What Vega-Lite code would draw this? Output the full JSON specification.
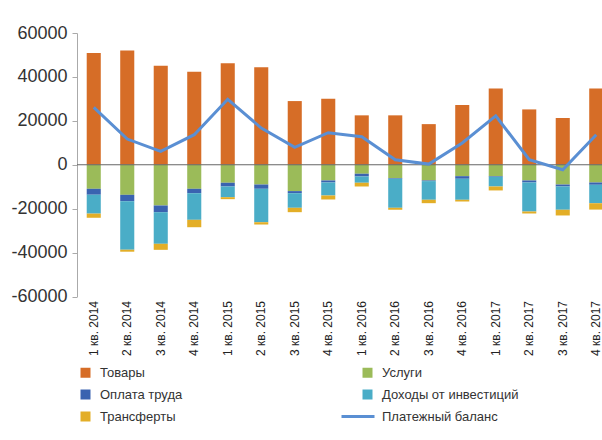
{
  "$schema": "https://vega.github.io/schema/vega-lite/v6.json",
  "autosize": "none",
  "padding": {"left": 77, "top": 33, "right": 0, "bottom": 143.5},
  "width": 525,
  "height": 263.5,
  "background": "white",
  "config": {
    "view": {"stroke": null},
    "font": "Liberation Sans",
    "axis": {"labelFont": "Liberation Sans", "labelColor": "#333"},
    "legend": {"labelFont": "Liberation Sans"}
  },
  "datasets": {
    "bars": [
      {"q": "1 кв. 2014", "type": "Товары", "value": 50900},
      {"q": "1 кв. 2014", "type": "Услуги", "value": -10950},
      {"q": "1 кв. 2014", "type": "Оплата труда", "value": -2700},
      {"q": "1 кв. 2014", "type": "Доходы от инвестиций", "value": -8600},
      {"q": "1 кв. 2014", "type": "Трансферты", "value": -1900},
      {"q": "2 кв. 2014", "type": "Товары", "value": 52000},
      {"q": "2 кв. 2014", "type": "Услуги", "value": -13700},
      {"q": "2 кв. 2014", "type": "Оплата труда", "value": -2900},
      {"q": "2 кв. 2014", "type": "Доходы от инвестиций", "value": -22100},
      {"q": "2 кв. 2014", "type": "Трансферты", "value": -900},
      {"q": "3 кв. 2014", "type": "Товары", "value": 45100},
      {"q": "3 кв. 2014", "type": "Услуги", "value": -18550},
      {"q": "3 кв. 2014", "type": "Оплата труда", "value": -3050},
      {"q": "3 кв. 2014", "type": "Доходы от инвестиций", "value": -14400},
      {"q": "3 кв. 2014", "type": "Трансферты", "value": -2750},
      {"q": "4 кв. 2014", "type": "Товары", "value": 42400},
      {"q": "4 кв. 2014", "type": "Услуги", "value": -10950},
      {"q": "4 кв. 2014", "type": "Оплата труда", "value": -2000},
      {"q": "4 кв. 2014", "type": "Доходы от инвестиций", "value": -12130},
      {"q": "4 кв. 2014", "type": "Трансферты", "value": -3370},
      {"q": "1 кв. 2015", "type": "Товары", "value": 46200},
      {"q": "1 кв. 2015", "type": "Услуги", "value": -8200},
      {"q": "1 кв. 2015", "type": "Оплата труда", "value": -1700},
      {"q": "1 кв. 2015", "type": "Доходы от инвестиций", "value": -4870},
      {"q": "1 кв. 2015", "type": "Трансферты", "value": -900},
      {"q": "2 кв. 2015", "type": "Товары", "value": 44400},
      {"q": "2 кв. 2015", "type": "Услуги", "value": -9000},
      {"q": "2 кв. 2015", "type": "Оплата труда", "value": -1950},
      {"q": "2 кв. 2015", "type": "Доходы от инвестиций", "value": -15220},
      {"q": "2 кв. 2015", "type": "Трансферты", "value": -1050},
      {"q": "3 кв. 2015", "type": "Товары", "value": 29000},
      {"q": "3 кв. 2015", "type": "Услуги", "value": -12000},
      {"q": "3 кв. 2015", "type": "Оплата труда", "value": -950},
      {"q": "3 кв. 2015", "type": "Доходы от инвестиций", "value": -6650},
      {"q": "3 кв. 2015", "type": "Трансферты", "value": -2000},
      {"q": "4 кв. 2015", "type": "Товары", "value": 30100},
      {"q": "4 кв. 2015", "type": "Услуги", "value": -7150},
      {"q": "4 кв. 2015", "type": "Оплата труда", "value": -920},
      {"q": "4 кв. 2015", "type": "Доходы от инвестиций", "value": -5930},
      {"q": "4 кв. 2015", "type": "Трансферты", "value": -1820},
      {"q": "1 кв. 2016", "type": "Товары", "value": 22500},
      {"q": "1 кв. 2016", "type": "Услуги", "value": -4100},
      {"q": "1 кв. 2016", "type": "Оплата труда", "value": -1240},
      {"q": "1 кв. 2016", "type": "Доходы от инвестиций", "value": -2860},
      {"q": "1 кв. 2016", "type": "Трансферты", "value": -1700},
      {"q": "2 кв. 2016", "type": "Товары", "value": 22500},
      {"q": "2 кв. 2016", "type": "Услуги", "value": -6100},
      {"q": "2 кв. 2016", "type": "Оплата труда", "value": -300},
      {"q": "2 кв. 2016", "type": "Доходы от инвестиций", "value": -13200},
      {"q": "2 кв. 2016", "type": "Трансферты", "value": -900},
      {"q": "3 кв. 2016", "type": "Товары", "value": 18500},
      {"q": "3 кв. 2016", "type": "Услуги", "value": -7150},
      {"q": "3 кв. 2016", "type": "Оплата труда", "value": -300},
      {"q": "3 кв. 2016", "type": "Доходы от инвестиций", "value": -8500},
      {"q": "3 кв. 2016", "type": "Трансферты", "value": -1550},
      {"q": "4 кв. 2016", "type": "Товары", "value": 27200},
      {"q": "4 кв. 2016", "type": "Услуги", "value": -5200},
      {"q": "4 кв. 2016", "type": "Оплата труда", "value": -1180},
      {"q": "4 кв. 2016", "type": "Доходы от инвестиций", "value": -9580},
      {"q": "4 кв. 2016", "type": "Трансферты", "value": -780},
      {"q": "1 кв. 2017", "type": "Товары", "value": 34700},
      {"q": "1 кв. 2017", "type": "Услуги", "value": -5200},
      {"q": "1 кв. 2017", "type": "Оплата труда", "value": -300},
      {"q": "1 кв. 2017", "type": "Доходы от инвестиций", "value": -4400},
      {"q": "1 кв. 2017", "type": "Трансферты", "value": -1800},
      {"q": "2 кв. 2017", "type": "Товары", "value": 25200},
      {"q": "2 кв. 2017", "type": "Услуги", "value": -7150},
      {"q": "2 кв. 2017", "type": "Оплата труда", "value": -920},
      {"q": "2 кв. 2017", "type": "Доходы от инвестиций", "value": -13230},
      {"q": "2 кв. 2017", "type": "Трансферты", "value": -900},
      {"q": "3 кв. 2017", "type": "Товары", "value": 21300},
      {"q": "3 кв. 2017", "type": "Услуги", "value": -9000},
      {"q": "3 кв. 2017", "type": "Оплата труда", "value": -900},
      {"q": "3 кв. 2017", "type": "Доходы от инвестиций", "value": -10600},
      {"q": "3 кв. 2017", "type": "Трансферты", "value": -2600},
      {"q": "4 кв. 2017", "type": "Товары", "value": 34700},
      {"q": "4 кв. 2017", "type": "Услуги", "value": -8070},
      {"q": "4 кв. 2017", "type": "Оплата труда", "value": -1050},
      {"q": "4 кв. 2017", "type": "Доходы от инвестиций", "value": -8400},
      {"q": "4 кв. 2017", "type": "Трансферты", "value": -2900}
    ],
    "balance": [
      {"q": "1 кв. 2014", "value": 26100},
      {"q": "2 кв. 2014", "value": 11700},
      {"q": "3 кв. 2014", "value": 6100},
      {"q": "4 кв. 2014", "value": 13700},
      {"q": "1 кв. 2015", "value": 29800},
      {"q": "2 кв. 2015", "value": 16700},
      {"q": "3 кв. 2015", "value": 7900},
      {"q": "4 кв. 2015", "value": 14600},
      {"q": "1 кв. 2016", "value": 12800},
      {"q": "2 кв. 2016", "value": 2300},
      {"q": "3 кв. 2016", "value": 300},
      {"q": "4 кв. 2016", "value": 9900},
      {"q": "1 кв. 2017", "value": 22300},
      {"q": "2 кв. 2017", "value": 2300},
      {"q": "3 кв. 2017", "value": -2300},
      {"q": "4 кв. 2017", "value": 13700}
    ]
  },
  "encoding": {
    "x": {
      "field": "q",
      "type": "nominal",
      "sort": null,
      "scale": {"range": [0, 536], "paddingInner": 0.58, "paddingOuter": 0.29},
      "axis": {
        "title": null,
        "labelAngle": 270,
        "labelFontSize": 12,
        "labelPadding": 4,
        "ticks": false,
        "domain": false,
        "labelColor": "#222"
      }
    }
  },
  "layer": [
    {
      "data": {"name": "bars"},
      "transform": [
        {"calculate": "indexof(['Товары', 'Услуги', 'Оплата труда', 'Доходы от инвестиций', 'Трансферты'], datum.type)", "as": "rank"}
      ],
      "mark": {"type": "bar"},
      "encoding": {
        "y": {
          "field": "value",
          "type": "quantitative",
          "stack": "zero",
          "scale": {"domain": [-60000, 60000], "nice": false},
          "axis": {
            "title": null,
            "values": [-60000, -40000, -20000, 0, 20000, 40000, 60000],
            "labelExpr": "'' + datum.value",
            "grid": false,
            "labelFontSize": 18,
            "labelColor": "#333",
            "labelPadding": 5,
            "tickSize": 5,
            "tickColor": "#aaa",
            "domainColor": "#aaa"
          }
        },
        "order": {"field": "rank", "type": "quantitative", "sort": "ascending"},
        "color": {
          "field": "type",
          "type": "nominal",
          "scale": {
            "domain": ["Товары", "Услуги", "Оплата труда", "Доходы от инвестиций", "Трансферты", "Платежный баланс"],
            "range": ["#d66d27", "#9bbb59", "#3a63b0", "#4aadc7", "#e3ae27", "#5a8fd3"]
          },
          "legend": {
            "title": null,
            "orient": "none",
            "direction": "horizontal",
            "legendX": 2,
            "legendY": 333,
            "columns": 2,
            "columnPadding": 152,
            "rowPadding": 8,
            "symbolType": "square",
            "symbolSize": 100,
            "symbolStrokeWidth": 0,
            "symbolOpacity": 1,
            "labelFontSize": 13,
            "labelColor": "#333",
            "labelOffset": 8,
            "labelLimit": 300,
            "encode": {
              "symbols": {
                "update": {
                  "shape": {"signal": "datum.value === 'Платежный баланс' ? 'M-5.2,0H1.4' : 'square'"},
                  "fill": {"signal": "datum.value === 'Платежный баланс' ? 'transparent' : scale('color', datum.value)"},
                  "stroke": {"signal": "datum.value === 'Платежный баланс' ? '#5a8fd3' : 'transparent'"},
                  "strokeWidth": {"signal": "datum.value === 'Платежный баланс' ? 3 : 0"}
                }
              }
            }
          }
        }
      }
    },
    {
      "data": {"values": [{"zero": 0}]},
      "mark": {"type": "rule", "color": "#666", "strokeWidth": 1},
      "encoding": {
        "x": null,
        "y": {"field": "zero", "type": "quantitative"}
      }
    },
    {
      "data": {"name": "balance"},
      "mark": {"type": "line", "strokeWidth": 3},
      "encoding": {
        "y": {"field": "value", "type": "quantitative"},
        "color": {"datum": "Платежный баланс"}
      }
    }
  ]
}
